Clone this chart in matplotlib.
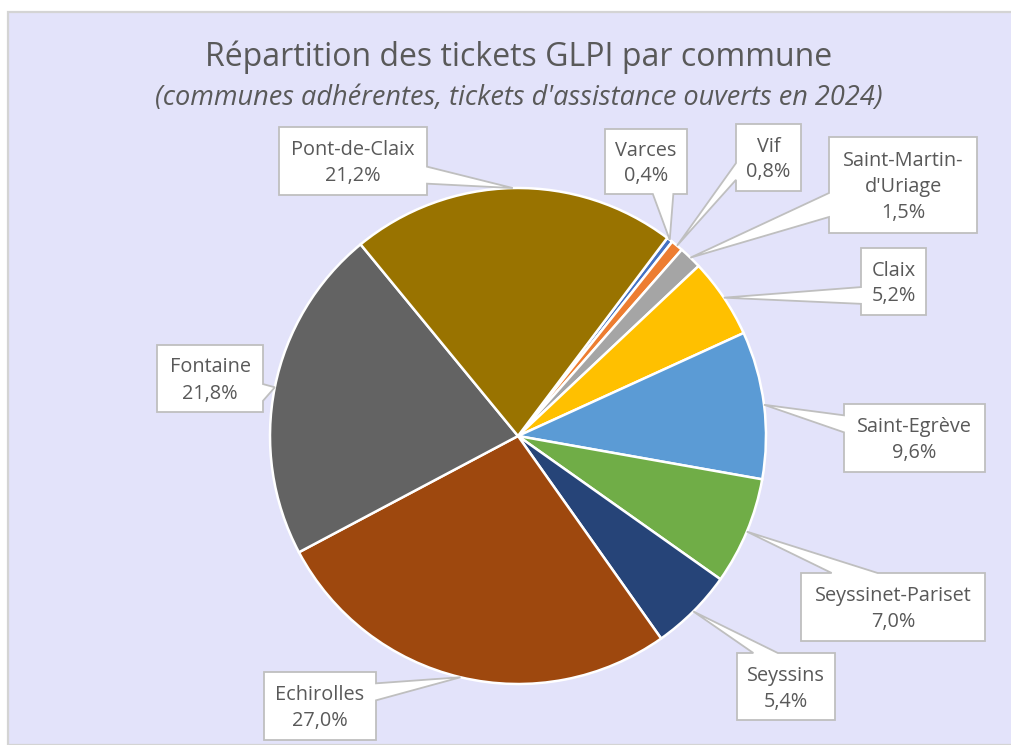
import numpy as np
import matplotlib
matplotlib.use("Agg")
import matplotlib.pyplot as plt
from matplotlib.patches import Rectangle, Polygon

# ---------------- data ----------------
communes = ["Varces", "Vif", "Saint-Martin-d'Uriage", "Claix", "Saint-Egrève",
            "Seyssinet-Pariset", "Seyssins", "Echirolles", "Fontaine", "Pont-de-Claix"]
parts = [0.4, 0.8, 1.5, 5.2, 9.6, 7.0, 5.4, 27.0, 21.8, 21.2]
colors = ["#4472C4", "#ED7D31", "#A5A5A5", "#FFC000", "#5B9BD5",
          "#70AD47", "#264478", "#9E480E", "#636363", "#997300"]
title = "Répartition des tickets GLPI par commune"
subtitle = "(communes adhérentes, tickets d'assistance ouverts en 2024)"

# ---------------- layout (pixel coords, y from top) ----------------
W, H = 1011, 745
CX, CY, R = 518, 436, 248
label_boxes = {  # x0, y0, x1, y1
    "Varces": (605, 129, 687, 194),
    "Vif": (736, 124, 801, 191),
    "Saint-Martin-d'Uriage": (829, 137, 977, 233),
    "Claix": (861, 248, 926, 315),
    "Saint-Egrève": (844, 404, 985, 472),
    "Seyssinet-Pariset": (801, 573, 985, 641),
    "Seyssins": (737, 653, 835, 720),
    "Echirolles": (264, 672, 376, 740),
    "Fontaine": (157, 345, 263, 412),
    "Pont-de-Claix": (279, 127, 427, 195),
}
TXT = "#595959"
FONT = "Open Sans"

fig = plt.figure(figsize=(W / 100, H / 100), dpi=100)
ax = fig.add_axes([0, 0, 1, 1])

def fy(y):
    return H - y

# background panel
ax.add_patch(Rectangle((8, 0), W, fy(12), facecolor="#E3E3FA",
                       edgecolor="#D4D4D4", linewidth=1.6, zorder=0))

wedges, _ = ax.pie(parts, colors=colors, startangle=53, counterclock=False,
                   center=(CX, fy(CY)), radius=R,
                   wedgeprops=dict(edgecolor="white", linewidth=1.8))

ax.set_xlim(0, W)
ax.set_ylim(0, H)
ax.set_aspect("equal")
ax.axis("off")

def callout(box, tip):
    x0, y0, x1, y1 = box
    w, h = x1 - x0, y1 - y0
    cx, cy = (x0 + x1) / 2, (y0 + y1) / 2
    dx, dy = (tip[0] - cx) / w, (tip[1] - cy) / h
    pts = [(x0, y0), (x1, y0), (x1, y1), (x0, y1)]  # TL, TR, BR, BL (y down)
    if abs(dx) >= abs(dy):
        f = (7 / 12, 10 / 12) if dy > 0 else (2 / 12, 5 / 12)
        if dx > 0:
            base = [(x1, y0 + h * f[0]), tip, (x1, y0 + h * f[1])]
            poly = [pts[0], pts[1]] + base + [pts[2], pts[3]]
        else:
            base = [(x0, y0 + h * f[1]), tip, (x0, y0 + h * f[0])]
            poly = [pts[0], pts[1], pts[2], pts[3]] + base
    else:
        f = (7 / 12, 10 / 12) if dx > 0 else (2 / 12, 5 / 12)
        if dy > 0:
            base = [(x0 + w * f[1], y1), tip, (x0 + w * f[0], y1)]
            poly = [pts[0], pts[1], pts[2]] + base + [pts[3]]
        else:
            base = [(x0 + w * f[0], y0), tip, (x0 + w * f[1], y0)]
            poly = [pts[0]] + base + [pts[1], pts[2], pts[3]]
    poly = [(p[0], fy(p[1])) for p in poly]
    ax.add_patch(Polygon(poly, closed=True, facecolor="white", edgecolor="#BFBFBF",
                         linewidth=1.3, joinstyle="miter", zorder=5))

for wdg, name, val in zip(wedges, communes, parts):
    mid = np.deg2rad((wdg.theta1 + wdg.theta2) / 2)
    tip = (CX + R * np.cos(mid), CY - R * np.sin(mid))
    box = label_boxes[name]
    callout(box, tip)
    disp = name.replace("Martin-", "Martin-\n")
    txt = disp + "\n" + f"{val:.1f}".replace(".", ",") + "%"
    ax.text((box[0] + box[2]) / 2, fy((box[1] + box[3]) / 2) - 2, txt,
            ha="center", va="center", fontsize=14.3, color=TXT, family=FONT,
            linespacing=1.4, zorder=6)

ax.text(519, fy(57), title, ha="center", va="center", fontsize=23,
        color=TXT, family=FONT)
ax.text(519, fy(98), subtitle, ha="center", va="center", fontsize=19.5,
        color=TXT, family=FONT, style="italic")

fig.savefig("out.png", dpi=100)
